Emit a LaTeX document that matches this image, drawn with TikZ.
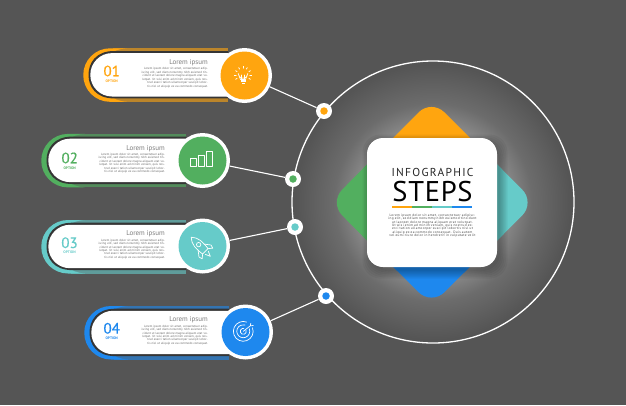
\documentclass[tikz,border=0pt]{standalone}
\usepackage{fontspec}
\setmainfont{PT Sans}
\usetikzlibrary{shadings,fadings,calc}
\definecolor{bgc}{HTML}{555555}
\definecolor{cOrange}{HTML}{FFA50F}
\definecolor{cGreen}{HTML}{52AF5F}
\definecolor{cTeal}{HTML}{66CBC9}
\definecolor{cBlue}{HTML}{1E88EE}
\definecolor{cText}{HTML}{666666}
\definecolor{glowA}{HTML}{A6A6A6}
\definecolor{glowB}{HTML}{8C8C8C}
\definecolor{glowC}{HTML}{6C6C6C}
\pgfdeclareradialshading{glowshade}{\pgfpoint{0pt}{0pt}}{color(0pt)=(glowA);color(9pt)=(glowA);color(13.5pt)=(glowB);color(18pt)=(glowC);color(25pt)=(bgc);color(50pt)=(bgc)}
\tikzset{
  x=1pt,y=-1pt,
  ringline/.style={draw=white,line width=1.3pt},
  link/.style={draw=white,line width=1.1pt},
  halo/.style={circle,fill=white,minimum size=55pt,inner sep=0pt},
  badge/.style={circle,fill=#1,minimum size=48pt,inner sep=0pt},
  dotouter/.style={circle,fill=white,minimum size=16pt,inner sep=0pt},
  dotinner/.style={circle,fill=#1,minimum size=7.5pt,inner sep=0pt},
  num/.style={text=#1,font=\fontsize{15}{15}\selectfont\addfontfeature{FakeBold=0.5},inner sep=0pt},
  opt/.style={text=#1,font=\fontsize{3.6}{4}\bfseries\selectfont,inner sep=0pt},
  ttl/.style={text=cText!85!white,font=\fontsize{7}{8}\selectfont,inner sep=0pt,anchor=east},
  body/.style={text=cText,font=\fontsize{3.1}{3.45}\selectfont,inner sep=0pt,align=right,text width=77pt,anchor=north east},
  icon/.style={draw=white,line width=0.7pt,line join=round,line cap=round},
}
\newcommand{\Pill}[3]{% x0 (outer left), cy, colour
  \begin{scope}[shift={(#1,#2)}]
    \fill[#3!60!bgc] (30,-26.5) rectangle (145,27);
    \fill[#3] (27,-26.5) -- (44,-26.5) .. controls (36,-26) and (30,-24) .. (27,-20) -- (27,20) .. controls (30,24) and (36,26.5) .. (44,27) -- (27,27) arc[start angle=90,end angle=270,radius=26.75] -- cycle;
    \fill[bgc!62!black] (31,-23.8) -- (145,-23.8) -- (145,23.6) -- (31,23.6) .. controls (13,23.6) and (5.5,12) .. (5.5,0) .. controls (5.5,-12) and (13,-23.8) .. (31,-23.8) -- cycle;
    \fill[white] (29,-21.7) -- (145,-21.7) -- (145,21.7) -- (29,21.7) arc[start angle=90,end angle=270,radius=21.7] -- cycle;
  \end{scope}
}
\begin{document}
\begin{tikzpicture}
\useasboundingbox (0,0) rectangle (626,405);
\fill[bgc] (0,0) rectangle (626,405);
% glow behind the card
\shade[shading=glowshade] (433,202) circle[radius=138];
% ring
\coordinate (ringc) at (433,202);
\draw[ringline] (ringc) circle[radius=141];
% diamonds
\fill[cOrange,rounded corners=18pt] (431.5,99.5) -- (500,168) -- (431.5,236) -- (363,168) -- cycle;
\fill[cBlue,rounded corners=18pt] (431.5,305) -- (500,237) -- (431.5,169) -- (363,237) -- cycle;
\fill[cGreen,rounded corners=18pt] (329.5,202.5) -- (395,136) -- (462,202.5) -- (395,269) -- cycle;
\fill[cTeal,rounded corners=18pt] (535,202.5) -- (469,136) -- (402,202.5) -- (469,269) -- cycle;
% card
\foreach \s in {0,1.5,3,4.5,6,7.5}{
  \fill[black,opacity=.05,rounded corners=18pt] (367+3-\s,138+4-\s) rectangle (497+3+\s,267+4+\s);
}
\fill[white,rounded corners=16pt] (367,138) rectangle (497,267);
\node[inner sep=0pt,font=\fontsize{11.5}{12}\selectfont\addfontfeature{LetterSpace=11},text=black!85] (t1) at (432.5,172) {INFOGRAPHIC};
\node[inner sep=0pt,font=\fontsize{28.5}{28}\selectfont\addfontfeature{LetterSpace=2.5},text=black] (t2) at (432.5,191.5) {STEPS};
\fill[cOrange] (392,206) rectangle (412,207.6);
\fill[cGreen] (412,206) rectangle (432,207.6);
\fill[cTeal] (432,206) rectangle (452,207.6);
\fill[cBlue] (452,206) rectangle (472,207.6);
\node[inner sep=0pt,text width=92pt,align=center,text=black!75,font=\fontsize{3.4}{3.45}\selectfont\addfontfeature{LetterSpace=10},anchor=north] (t3) at (432.5,213.5) {Lorem ipsum dolor sit amet, consectetuer adipiscing elit, sed diam nonummy nibh euismod tincidunt ut laoreet dolore magna aliquam erat volutpat. Ut wisi enim ad minim veniam, quis nostrud exerci tation ullamcorper suscipit lobortis nisl ut aliquip ex ea commodo consequat. Duis autem vel eum iriure dolor in hendrerit in vulputate velit};
% pills
\Pill{83}{74.8}{cOrange}
\Pill{41}{160.4}{cGreen}
\Pill{41}{246.5}{cTeal}
\Pill{84}{332.5}{cBlue}
% step circles and dots
\node[halo] (h1) at (244.5,75.5) {};
\node[halo] (h2) at (202.5,160.5) {};
\node[halo] (h3) at (202.5,246) {};
\node[halo] (h4) at (245.5,332) {};
\node[dotouter] (d1) at (324,111) {};
\node[dotouter] (d2) at (293,179) {};
\node[dotouter] (d3) at (295,227) {};
\node[dotouter] (d4) at (326,296) {};
\draw[link] (h1) -- (d1);
\draw[link] (h2) -- (d2);
\draw[link] (h3) -- (d3);
\draw[link] (h4) -- (d4);
\node[badge=cOrange] (b1) at (244.5,75.5) {};
\node[badge=cGreen] (b2) at (202.5,160.5) {};
\node[badge=cTeal] (b3) at (202.5,246) {};
\node[badge=cBlue] (b4) at (245.5,332) {};
\node[dotinner=cOrange] at (d1) {};
\node[dotinner=cGreen] at (d2) {};
\node[dotinner=cTeal] at (d3) {};
\node[dotinner=cBlue] at (d4) {};
% texts
\def\lorem{Lorem ipsum dolor sit amet, consectetuer adipiscing elit, sed diam nonummy nibh euismod tincidunt ut laoreet dolore magna aliquam erat volutpat. Ut wisi enim ad minim veniam, quis nostrud exerci tation ullamcorper suscipit lobortis nisl ut aliquip ex ea commodo consequat.}
\node[num=cOrange] (n1) at (111.7,71) {01};
\node[opt=cOrange] (o1) at (111.7,81) {OPTION};
\node[ttl] (l1) at (208,62.3) {Lorem ipsum};
\node[body] (p1) at (208,67.5) {\lorem};
\node[num=cGreen] (n2) at (69.7,158) {02};
\node[opt=cGreen] (o2) at (69.7,168) {OPTION};
\node[ttl] (l2) at (165,148.3) {Lorem ipsum};
\node[body] (p2) at (165,153) {\lorem};
\node[num=cTeal] (n3) at (69.5,242.7) {03};
\node[opt=cTeal] (o3) at (69.5,252.3) {OPTION};
\node[ttl] (l3) at (165,234) {Lorem ipsum};
\node[body] (p3) at (165,238.7) {\lorem};
\node[num=cBlue] (n4) at (111.7,328.3) {04};
\node[opt=cBlue] (o4) at (111.7,338) {OPTION};
\node[ttl] (l4) at (208,319.7) {Lorem ipsum};
\node[body] (p4) at (208,324.7) {\lorem};
% bulb icon
\begin{scope}[shift={(243,75)},icon]
  \draw (-2.5,4.5) .. controls (-2.5,2.5) and (-4.8,1) .. (-4.8,-1.5) arc[start angle=180,end angle=0,radius=4.8] .. controls (4.8,1) and (2.5,2.5) .. (2.5,4.5) -- cycle;
  \fill[white] (-2.5,5.3) rectangle (2.5,7.2);
  \fill[white] (-1.5,7.8) rectangle (1.5,9.2);
  \draw (-1.2,4.5) -- (-1.2,0) (1.2,4.5) -- (1.2,0);
  \foreach \a in {150,180,210,240,270,300,330,360,30} \draw (\a:6.8) -- (\a:8.6);
\end{scope}
% bars icon
\begin{scope}[shift={(202.5,160.5)},icon]
  \draw (-12.5,-2.2) rectangle (-6,6.2);
  \draw (-4.5,-5.5) rectangle (2,6.2);
  \draw (4,-8.8) rectangle (10.2,6.2);
\end{scope}
% rocket icon
\begin{scope}[shift={(201.8,247.8)},rotate=45,icon]
  \draw (0,-15) .. controls (5,-10) and (5,-3) .. (3.8,5) -- (-3.8,5) .. controls (-5,-3) and (-5,-10) .. (0,-15) -- cycle;
  \draw (0,-4.5) circle[radius=2.2];
  \draw (-4.2,-1) -- (-8.5,4.5) -- (-7.5,8) -- (-3.8,5);
  \draw (4.2,-1) -- (8.5,4.5) -- (7.5,8) -- (3.8,5);
  \draw (-2.2,7) -- (0,12) -- (2.2,7);
\end{scope}
% target icon
\begin{scope}[shift={(243.3,331.3)},icon]
  \draw (9.2,-3.5) arc[start angle=-21,end angle=290,radius=9.9];
  \draw (6,-2.5) arc[start angle=-22,end angle=285,radius=6.5];
  \draw (2.8,-1) arc[start angle=-20,end angle=280,radius=3];
  \draw (0,0) -- (7,-5.5) (7,-5.5) -- (7.5,-8) (7,-5.5) -- (10,-5.8);
\end{scope}
\end{tikzpicture}
\end{document}
